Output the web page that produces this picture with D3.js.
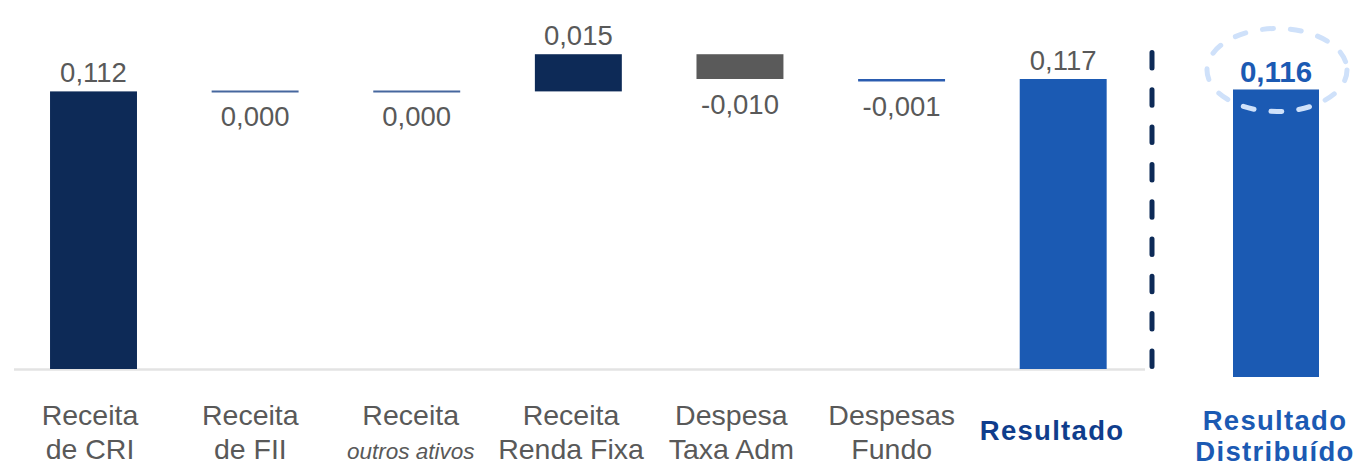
<!DOCTYPE html>
<html>
<head>
<meta charset="utf-8">
<script src="https://cdn.jsdelivr.net/npm/d3@7"></script>
<style>
  html, body { margin: 0; padding: 0; background: #ffffff; }
  svg { display: block; font-family: "Liberation Sans", Arial, sans-serif; }
</style>
</head>
<body>
<svg id="chart" width="1362" height="468"></svg>
<script>
// Waterfall of the monthly result per share (R$/cota)
const categories = [
  "Receita de CRI", "Receita de FII", "Receita outros ativos",
  "Receita Renda Fixa", "Despesa Taxa Adm", "Despesas Fundo", "Resultado"
];
const values = [0.112, 0.000, 0.000, 0.015, -0.010, -0.001, 0.117];
const barKinds = ["total", "step", "step", "step", "step", "step", "total"];
const tickLines = [
  ["Receita", "de CRI"],
  ["Receita", "de FII"],
  ["Receita", "outros ativos"],
  ["Receita", "Renda Fixa"],
  ["Despesa", "Taxa Adm"],
  ["Despesas", "Fundo"],
  ["Resultado"]
];
const distributedLines = ["Resultado", "Distribuído"];
const distributedValue = 0.116;

// Fill per category
const barColors = {
  "Receita de CRI": "#0d2a57",
  "Receita de FII": "#0d2a57",
  "Receita outros ativos": "#0d2a57",
  "Receita Renda Fixa": "#0d2a57",
  "Despesa Taxa Adm": "#5a5a5a",
  "Despesas Fundo": "#2a5cb0",
  "Resultado": "#1b5ab3"
};

const fmt = d3.formatLocale({
  decimal: ",", thousands: ".", grouping: [3], currency: ["R$", ""], minus: "-"
}).format(".3f");

const svg = d3.select("#chart");
const labelGrey = "#595959";
const font = '"Liberation Sans", Arial, sans-serif';

// Scales
const x = d3.scaleBand()
  .domain(categories)
  .range([12.7, 1144])
  .paddingInner(0.462)
  .paddingOuter(0.231);

const xLabel = d3.scaleBand()
  .domain(categories)
  .range([9.8, 1132.2])
  .padding(0);

const y = d3.scaleLinear().domain([0, 0.14]).range([369, 22]);

const xDist = d3.scaleBand().domain(["dist"]).range([1233, 1319]);
const yDist = d3.scaleLinear().domain([0, 0.14]).range([377, 30]);

// Running totals for the floating bars
let running = 0;
const bars = categories.map((c, i) => {
  let start, end;
  if (barKinds[i] === "total") {
    start = 0; end = values[i];
    running = values[i];
  } else {
    start = running; end = running + values[i];
    running = end;
  }
  return { cat: c, value: values[i], start, end, kind: barKinds[i] };
});

// Baseline
svg.append("line")
  .attr("x1", 14).attr("x2", x.range()[1] + 1)
  .attr("y1", y(0) + 0.5).attr("y2", y(0) + 0.5)
  .attr("stroke", "#e3e3e3").attr("stroke-width", 2.5);

// Bars
const g = svg.append("g");
bars.forEach(b => {
  const top = y(Math.max(b.start, b.end));
  const bottom = y(Math.min(b.start, b.end));
  const h = bottom - top;
  if (h > 0) {
    g.append("rect")
      .attr("x", x(b.cat)).attr("y", top)
      .attr("width", x.bandwidth()).attr("height", h)
      .attr("fill", barColors[b.cat]);
  } else {
    g.append("line")
      .attr("x1", x(b.cat)).attr("x2", x(b.cat) + x.bandwidth())
      .attr("y1", top).attr("y2", top)
      .attr("stroke", "#46679e").attr("stroke-width", 2);
  }
  // value labels: above for gains/totals, below for zero and costs
  const above = b.value > 0;
  svg.append("text")
    .attr("x", x(b.cat) + x.bandwidth() / 2)
    .attr("y", above ? top - 9 : bottom + 35)
    .attr("text-anchor", "middle")
    .attr("font-size", 27.5)
    .attr("fill", labelGrey)
    .text(fmt(b.value));
});

// Distributed result bar
svg.append("rect")
  .attr("x", xDist("dist")).attr("y", yDist(distributedValue))
  .attr("width", xDist.bandwidth())
  .attr("height", yDist(0) - yDist(distributedValue))
  .attr("fill", "#1b5ab3");

const distCx = xDist("dist") + xDist.bandwidth() / 2;
const distLabelY = yDist(distributedValue) - 7;
svg.append("text")
  .attr("x", distCx).attr("y", distLabelY)
  .attr("text-anchor", "middle")
  .attr("font-size", 29.5).attr("font-weight", "bold")
  .attr("fill", "#1b5ab3")
  .text(fmt(distributedValue));

// Highlight ring round the distributed value
svg.append("ellipse")
  .attr("cx", distCx + 1).attr("cy", distLabelY - 12.5)
  .attr("rx", 70).attr("ry", 41.5)
  .attr("fill", "none")
  .attr("stroke", "#cfe1fa").attr("stroke-width", 5)
  .attr("stroke-linecap", "round")
  .attr("stroke-dasharray", "11 17");

// Separator between the waterfall and the distribution
svg.append("line")
  .attr("x1", x.range()[1] + 8).attr("x2", x.range()[1] + 8)
  .attr("y1", 52.5).attr("y2", 368)
  .attr("stroke", "#0d2a57").attr("stroke-width", 5)
  .attr("stroke-linecap", "round")
  .attr("stroke-dasharray", "15.5 21.8");

// Category axis
const axis = svg.append("g")
  .attr("transform", `translate(0, ${y(0)})`)
  .call(d3.axisBottom(xLabel).tickSize(0).tickSizeOuter(0));
axis.select(".domain").remove();
axis.selectAll(".tick text").remove();
axis.selectAll(".tick").each(function (c) {
  const i = categories.indexOf(c);
  const lines = tickLines[i];
  const t = d3.select(this).append("text")
    .attr("text-anchor", "middle")
    .attr("font-family", font);
  if (lines.length === 1) {
    t.attr("y", 71)
      .attr("font-size", 27.5).attr("font-weight", "bold")
      .attr("letter-spacing", 1.3)
      .attr("fill", "#0f3d8c")
      .text(lines[0]);
  } else {
    lines.forEach((ln, k) => {
      const italic = k === 1 && ln === "outros ativos";
      t.append("tspan")
        .attr("x", 0)
        .attr("y", k === 0 ? 56 : 90)
        .attr("font-size", italic ? 22.5 : 28.5)
        .attr("font-style", italic ? "italic" : "normal")
        .attr("fill", labelGrey)
        .text(ln);
    });
  }
});

// Distribution label
const distText = svg.append("text")
  .attr("text-anchor", "middle")
  .attr("font-size", 27.5).attr("font-weight", "bold")
  .attr("letter-spacing", 1.3)
  .attr("fill", "#1b5ab3");
distributedLines.forEach((ln, k) => {
  distText.append("tspan")
    .attr("x", distCx - 1)
    .attr("y", k === 0 ? 430 : 461)
    .text(ln);
});
</script>
</body>
</html>
